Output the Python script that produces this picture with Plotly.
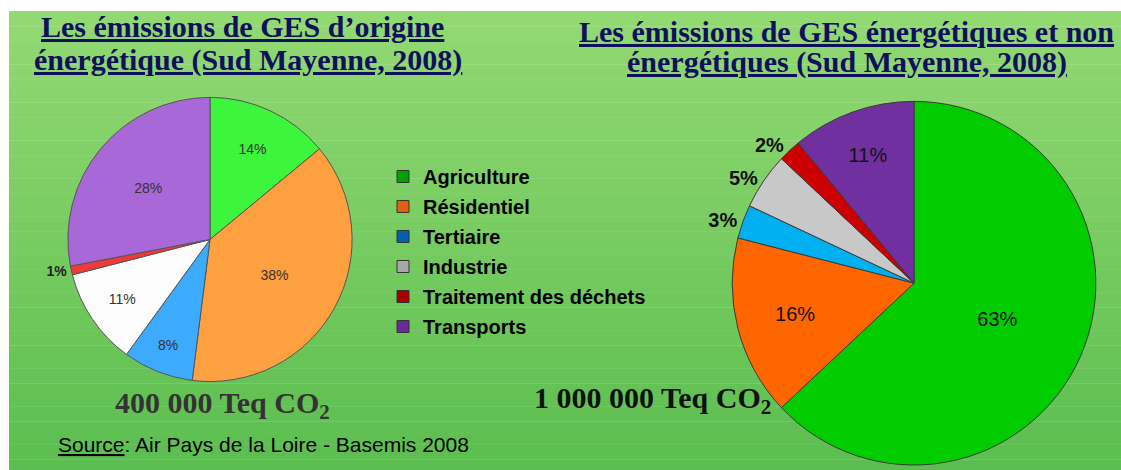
import plotly.graph_objects as go

W, H = 1121, 470

# ---- data ----
categories = ["Agriculture", "Résidentiel", "Tertiaire", "Industrie",
              "Traitement des déchets", "Transports"]
energy_pct = [14, 38, 8, 11, 1, 28]          # left pie: GES d'origine énergétique
total_pct = [63, 16, 3, 5, 2, 11]            # right pie: énergétiques et non énergétiques

left_title = ["Les émissions de GES d’origine", "énergétique (Sud Mayenne, 2008)"]
right_title = ["Les émissions de GES énergétiques et non", "énergétiques (Sud Mayenne, 2008)"]
left_total = "400 000 Teq CO<sub>2</sub>"
right_total = "1 000 000 Teq CO<sub>2</sub>"
source_text = "<u>Source</u>: Air Pays de la Loire - Basemis 2008"

# ---- styles ----
left_colors = ["#3cf53c", "#ffa040", "#3caaff", "#fcfcfc", "#f03a3a", "#a868d8"]
right_colors = ["#00cc00", "#ff6600", "#00b0f0", "#c8c8c8", "#cc0000", "#7030a0"]
legend_colors = ["#00a400", "#e06010", "#0062aa", "#a8a8a8", "#a80000", "#6a2a9a"]

left_pos = ["inside", "inside", "inside", "inside", "outside", "inside"]
right_pos = ["inside", "inside", "outside", "outside", "outside", "inside"]


def px_dom(cx, cy, r):
    return dict(x=[(cx - r) / W, (cx + r) / W], y=[1 - (cy + r) / H, 1 - (cy - r) / H])


fig = go.Figure()

fig.add_trace(go.Pie(
    labels=categories, values=energy_pct, sort=False, direction="clockwise", rotation=0,
    domain=px_dom(210, 241, 143),
    marker=dict(colors=left_colors, line=dict(color="#555555", width=1)),
    texttemplate="%{value}%", textposition=left_pos, insidetextorientation="horizontal",
    insidetextfont=dict(family="Liberation Sans", size=14, color="#333333"),
    outsidetextfont=dict(family="Liberation Sans", size=14, color="#222222", weight="bold"),
    showlegend=False, hoverinfo="skip",
))

fig.add_trace(go.Pie(
    labels=categories, values=total_pct, sort=False, direction="clockwise", rotation=0,
    domain=px_dom(914, 285, 183),
    marker=dict(colors=right_colors, line=dict(color="#3a3a3a", width=1)),
    texttemplate="%{value}%", textposition=right_pos, insidetextorientation="horizontal",
    insidetextfont=dict(family="Liberation Sans", size=20, color="#111111"),
    outsidetextfont=dict(family="Liberation Sans", size=20, color="#111111", weight="bold"),
    showlegend=False, hoverinfo="skip",
))

# legend entries
for name, col in zip(categories, legend_colors):
    fig.add_trace(go.Scatter(
        x=[None], y=[None], mode="markers", name=name, legendgroup=name,
        marker=dict(symbol="square", size=12, color=col, line=dict(color="#333333", width=1)),
    ))

# background gradient bands
shapes = []
top_c = (147, 217, 115)
bot_c = (92, 190, 80)
nb = 60
y_top = 1 - 11 / H
for i in range(nb):
    t = i / (nb - 1)
    c = tuple(round(top_c[k] + (bot_c[k] - top_c[k]) * t) for k in range(3))
    y1 = y_top - y_top * i / nb
    y0 = y_top - y_top * (i + 1) / nb
    if i == nb - 1:
        y0 = -0.05
    shapes.append(dict(type="rect", xref="paper", yref="paper", x0=9 / W, x1=1.02,
                       y0=y0 - 0.001, y1=y1, layer="below", line=dict(width=0),
                       fillcolor="rgb(%d,%d,%d)" % c))

annotations = []


def add_text(text, cx, cy, size, color, family="Liberation Serif", bold=True):
    annotations.append(dict(
        text=text, x=cx / W, y=1 - cy / H, xref="paper", yref="paper",
        xanchor="center", yanchor="middle", showarrow=False,
        font=dict(family=family, size=size, color=color, weight="bold" if bold else "normal"),
    ))


add_text("<u>" + left_title[0] + "</u>", 242, 27, 30, "#10105e")
add_text("<u>" + left_title[1] + "</u>", 248, 60, 30, "#10105e")
add_text("<u>" + right_title[0] + "</u>", 846, 32, 30, "#10105e")
add_text("<u>" + right_title[1] + "</u>", 847, 62, 30, "#10105e")
add_text(left_total, 223, 408, 30, "#333333")
add_text(right_total, 652, 403, 30, "#111111")
add_text(source_text, 263, 447, 21, "#000000", family="Liberation Sans", bold=False)

fig.update_layout(
    width=W, height=H, margin=dict(l=0, r=0, t=0, b=0),
    paper_bgcolor="white", plot_bgcolor="rgba(0,0,0,0)",
    xaxis=dict(visible=False, range=[0, 1]), yaxis=dict(visible=False, range=[0, 1]),
    shapes=shapes, annotations=annotations,
    legend=dict(x=383 / W, y=1 - 158 / H, xanchor="left", yanchor="top",
                bgcolor="rgba(0,0,0,0)", tracegroupgap=1,
                font=dict(family="Liberation Sans", size=20, color="#000000", weight="bold")),
    showlegend=True,
)

fig.write_html(
    "out.html", config={"displayModeBar": False},
    post_script=("document.body.style.margin='0';"
                 "document.body.style.overflow='hidden';"
                 "document.documentElement.style.overflow='hidden';"
                 "document.documentElement.style.background='#5cbe50';"
                 "document.body.style.background='#5cbe50';"),
)
